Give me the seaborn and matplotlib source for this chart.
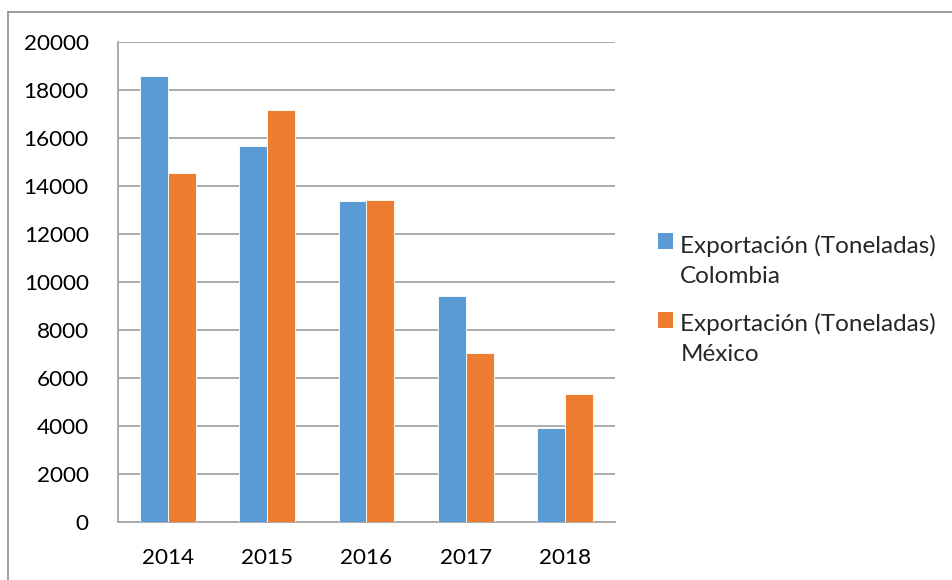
import matplotlib
matplotlib.use("Agg")
import matplotlib.pyplot as plt
import seaborn as sns
import pandas as pd
from matplotlib.lines import Line2D
from matplotlib.patches import Rectangle
from matplotlib.legend_handler import HandlerPatch

years = ["2014", "2015", "2016", "2017", "2018"]
colombia = [18580, 15650, 13380, 9420, 3920]
mexico = [14550, 17170, 13420, 7040, 5330]
series_names = ["Exportación (Toneladas)\nColombia", "Exportación (Toneladas)\nMéxico"]
y_ticks = [0, 2000, 4000, 6000, 8000, 10000, 12000, 14000, 16000, 18000, 20000]

df = pd.DataFrame({
    "Año": years * 2,
    "Valor": colombia + mexico,
    "Serie": [series_names[0]] * len(years) + [series_names[1]] * len(years),
})

sns.set_theme(style="white")
plt.rcParams["font.family"] = ["Lato", "DejaVu Sans"]

fig = plt.figure(figsize=(9.53, 5.80), dpi=100)
ax = fig.add_axes([118/953, 58/580, (615-118)/953, (522-42)/580])

sns.barplot(data=df, x="Año", y="Valor", hue="Serie", order=years,
            hue_order=series_names, palette=["#5B9BD5", "#ED7D31"],
            saturation=1, width=0.56, edgecolor="#ffffff", linewidth=0.6,
            ax=ax, zorder=3)

TICK_FS = 16.2
ax.set_ylim(0, 20000)
ax.set_xlim(-0.5, 4.5)
ax.set_yticks(y_ticks)
ax.set_yticklabels([str(v) for v in y_ticks], fontsize=TICK_FS, color="#000000")
ax.tick_params(axis="y", length=9, width=1.3, color="#A6A6A6", pad=12)
ax.set_xticks(range(len(years)))
ax.set_xticklabels(years, fontsize=TICK_FS, color="#000000")
ax.tick_params(axis="x", which="major", length=0, pad=19)
ax.set_xticks([i - 0.5 for i in range(len(years) + 1)], minor=True)
ax.tick_params(axis="x", which="minor", length=8, width=1.3, color="#A6A6A6")
ax.set_xlabel("")
ax.set_ylabel("")
ax.grid(axis="y", color="#A6A6A6", linewidth=1.3, zorder=0)
ax.set_axisbelow(True)
for s in ["top", "right"]:
    ax.spines[s].set_visible(False)
for s in ["left", "bottom"]:
    ax.spines[s].set_color("#A6A6A6")
    ax.spines[s].set_linewidth(1.3)


def square_up(legend, orig_handle, xdescent, ydescent, width, height, fontsize):
    return Rectangle((-xdescent, -ydescent + 0.8 * fontsize), width, height)


handles, labels = ax.get_legend_handles_labels()
leg = ax.legend(handles, labels, loc="center left",
                bbox_to_anchor=(658/953, 1 - 300/580),
                bbox_transform=fig.transFigure, frameon=False, fontsize=17.5,
                handlelength=0.62, handleheight=0.62, handletextpad=0.3,
                labelspacing=1.07, borderpad=0, borderaxespad=0,
                handler_map={h: HandlerPatch(patch_func=square_up) for h in handles})
for t in leg.get_texts():
    t.set_linespacing(1.55)
for h in leg.legend_handles:
    h.set_edgecolor("none")

# outer frame: top and left lines
fig.add_artist(Line2D([8/953, 1.0], [1 - 12/580, 1 - 12/580], color="#8C8C8C",
                      linewidth=1.2, transform=fig.transFigure))
fig.add_artist(Line2D([8/953, 8/953], [0, 1 - 12/580], color="#8C8C8C",
                      linewidth=1.2, transform=fig.transFigure))

fig.savefig("out.png", dpi=100)
